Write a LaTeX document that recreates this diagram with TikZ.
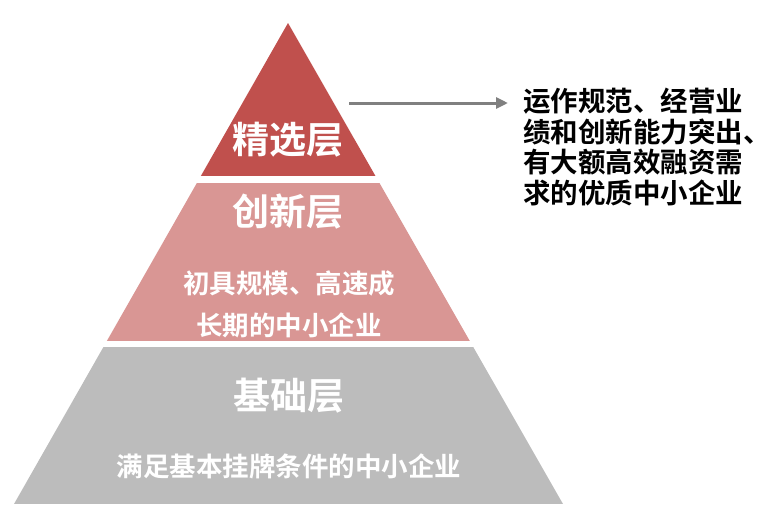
\documentclass[tikz,border=0pt]{standalone}
\usepackage{fontspec}
\usepackage{tikz}
\usetikzlibrary{arrows.meta}
\newfontfamily\cjk{Noto Sans CJK SC Bold}
\definecolor{topred}{HTML}{C0504D}
\definecolor{midpink}{HTML}{D99694}
\definecolor{basegray}{HTML}{BCBCBC}
\definecolor{arrowgray}{HTML}{808080}

\begin{document}
\begin{tikzpicture}[x=1pt,y=-1pt,
    tiername/.style={text=white,inner sep=0pt,font=\cjk\fontsize{37}{37}\selectfont},
    tierdesc/.style={text=white,inner sep=0pt,align=center,font=\cjk\fontsize{26.5}{42}\selectfont},
    desctext/.style={text=black,inner sep=0pt,align=left,anchor=west,font=\cjk\fontsize{27.5}{30.6}\selectfont},
    arrowline/.style={draw=arrowgray,line width=3pt,-{Triangle[length=12pt,width=11pt]}}]
    \useasboundingbox (0,0) rectangle (774,520);
    \begin{scope}
    \clip (288,23) -- (14,504) -- (563,504) -- cycle;
    \fill[topred] (0,0) rectangle (774,176);
    \fill[midpink] (0,183) rectangle (774,341);
    \fill[basegray] (0,347) rectangle (774,504);
    \end{scope}
    \node[tiername] (topName) at (288,140) {精选层};
    \node[tiername] (midName) at (288,212) {创新层};
    \node[tierdesc] (midDesc) at (289,304) {初具规模、高速成\\长期的中小企业};
    \node[tiername] (baseName) at (289,396) {基础层};
    \node[tierdesc] (baseDesc) at (289,466) {满足基本挂牌条件的中小企业};
    \node[desctext] (topDesc) at (523,147) {运作规范、经营业\\绩和创新能力突出、\\有大额高效融资需\\求的优质中小企业};
    \coordinate (arrS) at (349,103);
    \coordinate (arrE) at (508,103);
    \draw[arrowline] (arrS) -- (arrE);
\end{tikzpicture}
\end{document}
